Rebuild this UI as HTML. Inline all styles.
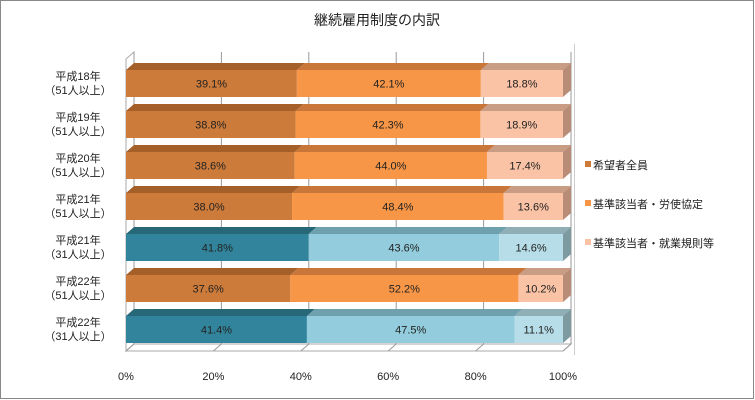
<!DOCTYPE html>
<html><head><meta charset="utf-8"><style>
body{margin:0;background:#fff}
svg{display:block;font-family:"Liberation Sans","Noto Sans CJK JP",sans-serif}
</style></head><body>
<svg id="c" width="755" height="400">
<rect x="0.5" y="0.5" width="753" height="398" fill="#fff" stroke="#888"/>
<text x="377" y="25" text-anchor="middle" font-size="14" fill="#222">継続雇用制度の内訳</text>
<g id="plot"></g>
<g id="legend"></g>
</svg>
<script>
const categories=[["平成18年","（51人以上）"],["平成19年","（51人以上）"],["平成20年","（51人以上）"],["平成21年","（51人以上）"],["平成21年","（31人以上）"],["平成22年","（51人以上）"],["平成22年","（31人以上）"]];
const seriesA=[39.1,38.8,38.6,38.0,41.8,37.6,41.4];
const seriesB=[42.1,42.3,44.0,48.4,43.6,52.2,47.5];
const seriesC=[18.8,18.9,17.4,13.6,14.6,10.2,11.1];
const teal=[false,false,false,false,true,false,true];
const seriesNames=["希望者全員","基準該当者・労使協定","基準該当者・就業規則等"];
const ticks=[0,20,40,60,80,100];
const NS="http://www.w3.org/2000/svg";
const x0=126,x1=563,dx=8,dy=7,rowTop=70,pitch=41,bh=27;
const xs=v=>x0+(x1-x0)*v/100;
const yRow=i=>rowTop+i*pitch;
const plot=document.getElementById('plot');
function mk(t,a,p){const e=document.createElementNS(NS,t);for(const k in a)e.setAttribute(k,a[k]);(p||plot).appendChild(e);return e;}
// walls
const wallTop=52,floorY=yRow(6)+bh+8;
mk('polygon',{points:`${x0},${wallTop+dy} ${x0+dx},${wallTop} ${x0+dx},${floorY-dy} ${x0},${floorY}`,fill:'#fff',stroke:'#aaa'});
mk('polygon',{points:`${x0},${floorY} ${x0+dx},${floorY-dy} ${x1+dx},${floorY-dy} ${x1},${floorY}`,fill:'#fff',stroke:'#aaa'});
ticks.forEach(t=>{
  const g=mk('line',{x1:xs(t)+dx,y1:wallTop,x2:xs(t)+dx,y2:floorY-dy,stroke:'#999'});
  
  mk('line',{x1:xs(t),y1:floorY,x2:xs(t)+dx,y2:floorY-dy,stroke:'#999'});
  const tx=mk('text',{x:xs(t),y:380,'text-anchor':'middle','font-size':11,fill:'#222'});tx.textContent=t+'%';
  
});
const palO=[["#CD7B3A","#A5602A","#9C5A28"],["#F79646","#C8763A","#BF6F33"],["#FBC3A5","#C99C84","#B88C76"]];
const palT=[["#31849B","#266778","#215A69"],["#93CDDD","#6FA0AE","#68959F"],["#B7DEE8","#90AEB6","#7E9AA1"]];
categories.forEach((c,i)=>{
  const y=yRow(i);const vals=[seriesA[i],seriesB[i],seriesC[i]];const pal=teal[i]?palT:palO;
  let cum=0;
  vals.forEach((v,k)=>{
    const a=xs(cum),b=xs(cum+v);cum+=v;
    const g=mk('g',{});
    
    mk('polygon',{points:`${a},${y} ${a+dx},${y-dy} ${b+dx},${y-dy} ${b},${y}`,fill:pal[k][1]},g);
    mk('rect',{x:a,y:y,width:b-a,height:bh,fill:pal[k][0]},g);
    if(k==2)mk('polygon',{points:`${b},${y} ${b+dx},${y-dy} ${b+dx},${y+bh-dy} ${b},${y+bh}`,fill:pal[k][2]},g);
    const t=mk('text',{x:(a+b)/2,y:y+bh/2+4,'text-anchor':'middle','font-size':11,fill:'#222'},g);t.textContent=v.toFixed(1)+'%';
  });
  const l=mk('text',{x:78,y:y+10,'text-anchor':'middle','font-size':11,fill:'#222'});
  
  const s1=mk('tspan',{x:78},l);s1.textContent=c[0];
  const s2=mk('tspan',{x:78,dy:14},l);s2.textContent=c[1];
});
const leg=document.getElementById('legend');
mk('line',{x1:574.5,y1:44,x2:574.5,y2:355,stroke:'#ccc'},leg);
seriesNames.forEach((n,k)=>{
  const y=166+k*39;
  const g=mk('g',{},leg);
  mk('rect',{x:585,y:y-5,width:6,height:6,fill:palO[k][0]},g);
  const t=mk('text',{x:593,y:y+3,'font-size':11,fill:'#222'},g);t.textContent=n;
});
</script>
</body></html>
